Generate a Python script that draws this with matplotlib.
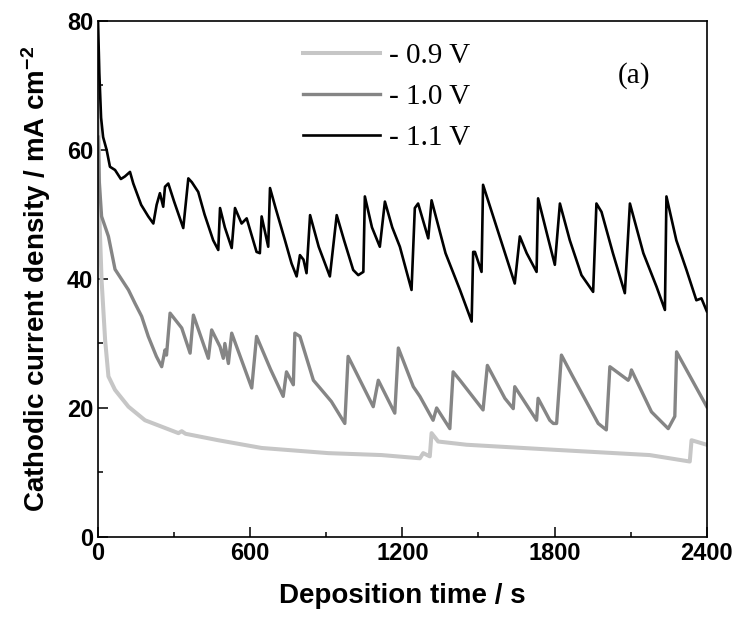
import matplotlib
matplotlib.use("Agg")
import matplotlib.pyplot as plt
from matplotlib.ticker import MultipleLocator

# -0.9 V
t_09 = [0, 5, 14, 28, 41, 67, 120, 185, 317, 330, 345, 474, 645, 908, 1118,
        1269, 1282, 1308, 1315, 1341, 1453, 1808, 2175, 2333, 2340, 2400]
j_09 = [75, 50, 39.8, 30.5, 24.9, 22.8, 20.2, 18.1, 16.1, 16.4, 16.0, 15.0, 13.8, 13.0, 12.7,
        12.2, 13.0, 12.5, 16.1, 14.8, 14.3, 13.5, 12.7, 11.7, 15.0, 14.3]

# -1.0 V
t_10 = [0, 5, 14, 28, 41, 67, 120, 146, 172, 198, 230, 251, 264, 270, 284, 310, 330,
        363, 376, 435, 448, 481, 494, 500, 514, 527, 606, 625, 680, 730, 743, 770,
        776, 796, 849, 875, 920, 973, 986, 1085, 1105, 1170, 1184, 1243, 1269, 1321,
        1335, 1387, 1400, 1427, 1518, 1535, 1604, 1637, 1643, 1729, 1735, 1781, 1795,
        1808, 1827, 1870, 1972, 2004, 2018, 2090, 2097, 2103, 2182, 2248, 2274, 2281, 2400]
j_10 = [62, 55, 49.7, 48.1, 46.6, 41.5, 38.3, 36.2, 34.2, 31.1, 28.0, 26.4, 29.0, 28.2, 34.7, 33.4, 32.4,
        28.5, 34.4, 27.7, 32.1, 29.5, 27.7, 30.0, 26.9, 31.6, 23.1, 31.1, 26.0, 21.8, 25.6, 23.6,
        31.6, 31.1, 24.3, 23.1, 21.0, 17.6, 28.0, 20.2, 24.3, 19.2, 29.3, 23.3, 21.8, 18.1,
        20.0, 16.8, 25.6, 24.3, 19.7, 26.6, 21.5, 19.9, 23.3, 18.1, 21.5, 18.1, 17.6,
        17.6, 28.2, 25.0, 17.6, 16.6, 26.4, 24.3, 24.8, 25.9, 19.4, 16.8, 18.7, 28.7, 20.2]

# -1.1 V
t_11 = [0, 5, 12, 20, 34, 47, 67, 90, 106, 126, 139, 170, 198, 218, 231, 244, 257, 264,
        277, 300, 336, 356, 370, 395, 420, 454, 474, 481, 500, 527, 540, 566, 586, 625,
        638, 645, 671, 678, 700, 737, 763, 783, 796, 810, 822, 836, 870, 914, 941, 970,
        1006, 1026, 1046, 1052, 1080, 1111, 1131, 1160, 1190, 1236, 1249, 1262, 1302,
        1315, 1370, 1427, 1473, 1479, 1486, 1512, 1518, 1580, 1643, 1663, 1690, 1729,
        1735, 1770, 1801, 1821, 1860, 1906, 1952, 1965, 1985, 2030, 2077, 2097, 2150,
        2202, 2235, 2241, 2280, 2320, 2359, 2379, 2400]
j_11 = [80, 72, 65, 62, 60, 57.4, 56.9, 55.5, 55.9, 56.6, 54.8, 51.5, 49.7, 48.6, 51.5, 53.3, 51.2, 54.3,
        54.8, 52.0, 47.9, 55.6, 55.0, 53.5, 50.0, 46.0, 44.5, 51.0, 48.0, 44.8, 51.0, 48.6, 49.4, 44.2,
        44.0, 49.7, 45.0, 54.1, 51.0, 46.0, 42.4, 40.4, 43.7, 43.0, 40.9, 49.9, 45.0, 40.4, 49.9, 46.0,
        41.4, 40.6, 41.1, 52.8, 48.0, 45.0, 52.0, 48.0, 45.0, 38.3, 51.0, 51.7, 46.3,
        52.2, 44.0, 38.3, 33.4, 44.2, 44.2, 41.1, 54.6, 47.0, 39.3, 46.6, 44.0, 41.1,
        52.5, 47.0, 42.2, 51.7, 46.0, 40.6, 38.0, 51.7, 50.4, 44.0, 37.8, 51.7, 44.0,
        38.8, 35.2, 52.8, 46.0, 41.4, 36.7, 37.0, 35.0]

series = [
    (t_09, j_09, "- 0.9 V", "#c6c6c6", 2.9),
    (t_10, j_10, "- 1.0 V", "#858585", 2.4),
    (t_11, j_11, "- 1.1 V", "black", 1.9),
]

plt.rcParams["mathtext.fontset"] = "custom"
plt.rcParams["mathtext.rm"] = "Liberation Sans:bold"
plt.rcParams["mathtext.bf"] = "Liberation Sans:bold"
plt.rcParams["mathtext.default"] = "bf"

fig = plt.figure(figsize=(7.41, 6.21), dpi=100)
ax = fig.add_axes([0.1323, 0.1353, 0.8215, 0.8309])

for t, j, lab, col, lw in series:
    ax.plot(t, j, color=col, lw=lw, label=lab, solid_joinstyle="round")

ax.set_xlim(0, 2400)
ax.set_ylim(0, 80)
ax.xaxis.set_major_locator(MultipleLocator(600))
ax.xaxis.set_minor_locator(MultipleLocator(300))
ax.yaxis.set_major_locator(MultipleLocator(20))
ax.yaxis.set_minor_locator(MultipleLocator(10))
ax.tick_params(which="both", direction="in", top=False, right=False, width=1.1)
ax.tick_params(which="major", length=7)
ax.tick_params(which="minor", length=3.6)
for sp in ax.spines.values():
    sp.set_linewidth(1.2)

for lbl in ax.get_xticklabels() + ax.get_yticklabels():
    lbl.set_fontfamily("Liberation Sans")
    lbl.set_fontweight("bold")
    lbl.set_fontsize(17)

ax.set_xlabel("Deposition time / s", fontsize=20, fontweight="bold",
              family="Liberation Sans", labelpad=13)
ax.set_ylabel("Cathodic current density / mA cm$^{-2}$", fontsize=20,
              fontweight="bold", family="Liberation Sans", labelpad=10)

leg = ax.legend(loc="upper left", bbox_to_anchor=(0.322, 0.975), frameon=False,
                prop={"family": "Liberation Serif", "size": 21},
                handlelength=2.65, handletextpad=0.3, labelspacing=0.5,
                borderpad=0.3, borderaxespad=0)

ax.text(0.88, 0.895, "(a)", transform=ax.transAxes, fontsize=21,
        family="Liberation Serif", ha="center", va="center")

fig.savefig("out.png", dpi=100)
